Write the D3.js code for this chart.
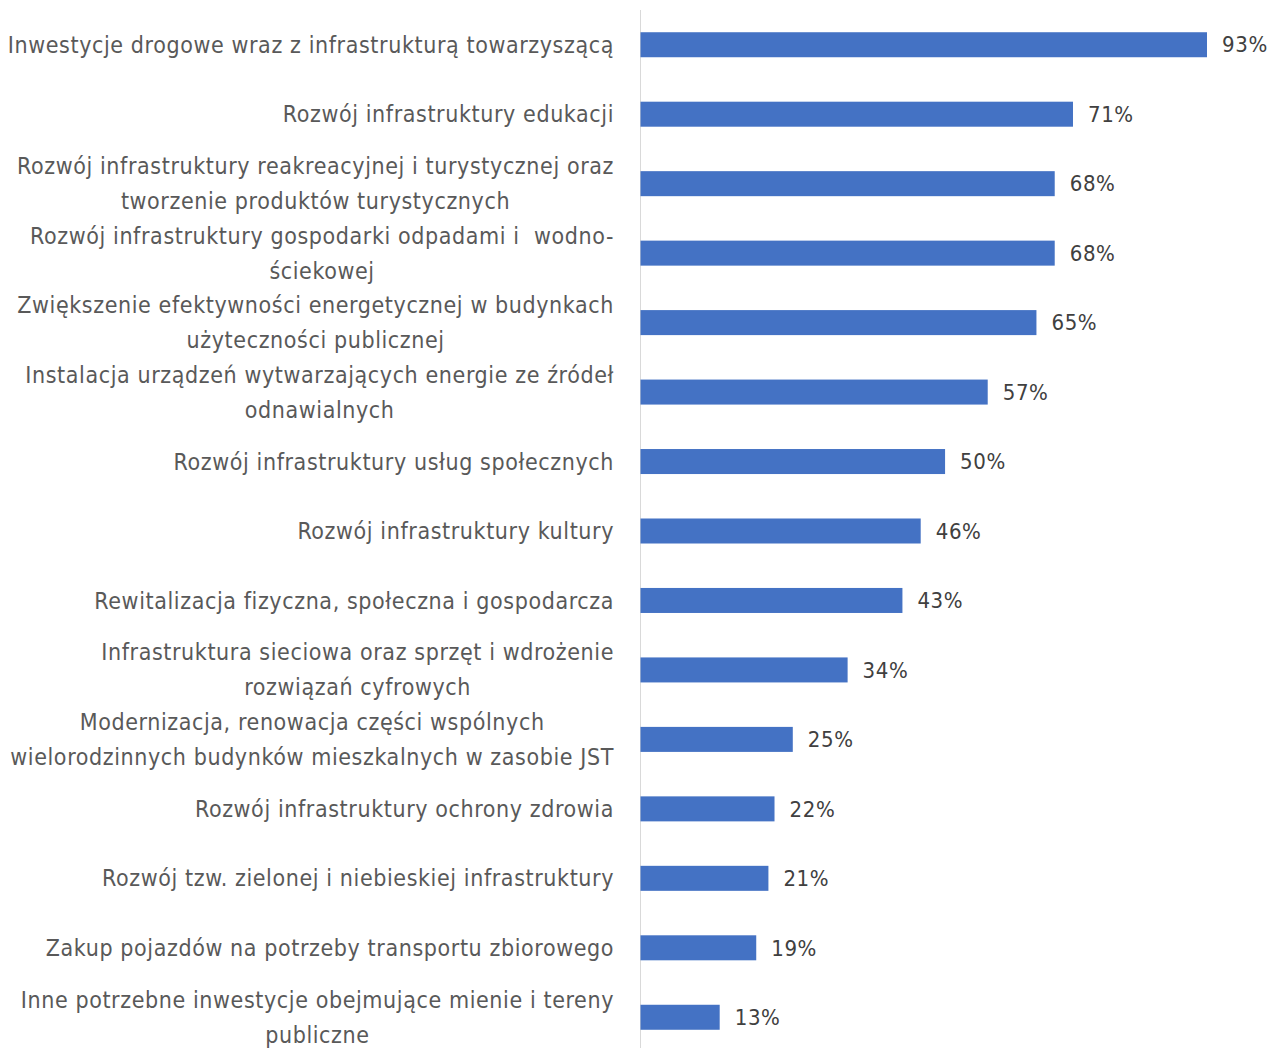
<!DOCTYPE html>
<html>
<head>
<meta charset="utf-8">
<script src="https://cdn.jsdelivr.net/npm/d3@7"></script>
<style>
  html, body { margin: 0; padding: 0; background: #fff; }
  svg { display: block; }
</style>
</head>
<body>
<svg id="chart" width="1271" height="1048"></svg>
<script>
const categories = [
  ["Inwestycje drogowe wraz z infrastrukturą towarzyszącą"],
  ["Rozwój infrastruktury edukacji"],
  ["Rozwój infrastruktury reakreacyjnej i turystycznej oraz", "tworzenie produktów turystycznych"],
  ["Rozwój infrastruktury gospodarki odpadami i  wodno-", "ściekowej"],
  ["Zwiększenie efektywności energetycznej w budynkach", "użyteczności publicznej"],
  ["Instalacja urządzeń wytwarzających energie ze źródeł", "odnawialnych"],
  ["Rozwój infrastruktury usług społecznych"],
  ["Rozwój infrastruktury kultury"],
  ["Rewitalizacja fizyczna, społeczna i gospodarcza"],
  ["Infrastruktura sieciowa oraz sprzęt i wdrożenie", "rozwiązań cyfrowych"],
  ["Modernizacja, renowacja części wspólnych", "wielorodzinnych budynków mieszkalnych w zasobie JST"],
  ["Rozwój infrastruktury ochrony zdrowia"],
  ["Rozwój tzw. zielonej i niebieskiej infrastruktury"],
  ["Zakup pojazdów na potrzeby transportu zbiorowego"],
  ["Inne potrzebne inwestycje obejmujące mienie i tereny", "publiczne"]
];
const values = [93, 71, 68, 68, 65, 57, 50, 46, 43, 34, 25, 22, 21, 19, 13];

const svg = d3.select("#chart");
const FONT = "'DejaVu Sans Condensed', 'Open Sans', sans-serif";
const axisX = 640.5;
const x = d3.scaleLinear().domain([0, 93]).range([axisX, 1207]);
const y = d3.scaleBand().domain(d3.range(categories.length))
  .range([10, 1052]).paddingInner(0.64).paddingOuter(0.32);

// axis line
svg.append("line")
  .attr("x1", axisX).attr("x2", axisX)
  .attr("y1", 10).attr("y2", 1048)
  .attr("stroke", "#d9d9d9").attr("stroke-width", 1);

// bars
svg.selectAll("rect.bar").data(values).enter().append("rect")
  .attr("class", "bar")
  .attr("x", x(0))
  .attr("y", (d, i) => y(i))
  .attr("width", d => x(d) - x(0))
  .attr("height", y.bandwidth())
  .attr("fill", "#4472C4");

// value labels
svg.selectAll("text.val").data(values).enter().append("text")
  .attr("class", "val")
  .attr("x", d => x(d) + 15)
  .attr("y", (d, i) => y(i) + y.bandwidth() / 2)
  .attr("dy", "0.35em")
  .attr("font-family", FONT)
  .attr("font-size", 22)
  .attr("letter-spacing", 0.6)
  .attr("fill", "#404040")
  .text(d => d + "%");

// category labels: block right-aligned, lines centered within block
const labelRight = 614;
const lineH = 35;
const g = svg.append("g");
categories.forEach((lines, i) => {
  const cy = y(i) + y.bandwidth() / 2;
  const tmp = lines.map(l => g.append("text")
      .attr("font-family", FONT)
      .attr("font-size", 23)
      .attr("letter-spacing", 0.6)
      .attr("fill", "#595959")
      .attr("text-anchor", "middle")
      .attr("dy", "0.35em")
      .style("white-space", "pre")
      .text(l));
  const maxW = d3.max(tmp, t => t.node().getComputedTextLength());
  const cx = labelRight - maxW / 2;
  tmp.forEach((t, j) => {
    t.attr("x", cx).attr("y", cy + (j - (lines.length - 1) / 2) * lineH);
  });
});
</script>
</body>
</html>
